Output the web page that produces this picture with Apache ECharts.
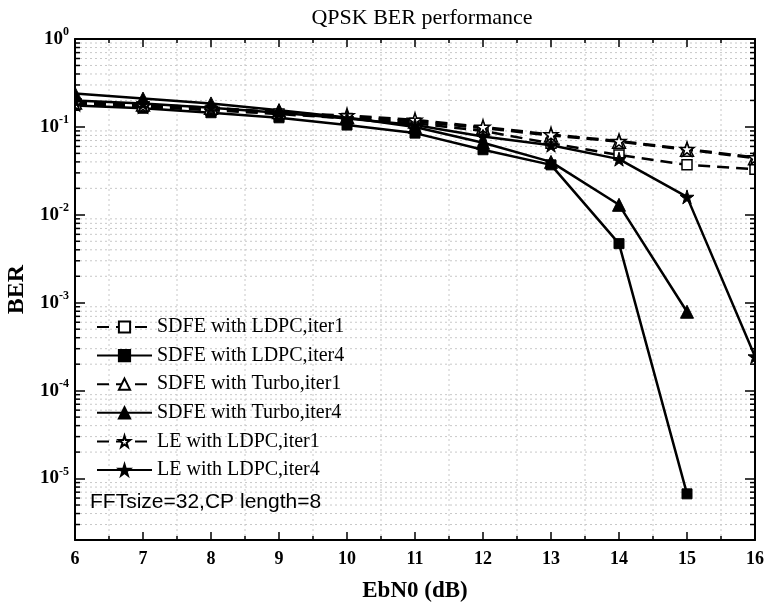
<!DOCTYPE html>
<html>
<head>
<meta charset="UTF-8">
<title>QPSK BER performance</title>
<script src="https://cdn.jsdelivr.net/npm/echarts@6/dist/echarts.min.js"></script>
<style>
  html, body { margin: 0; padding: 0; background: #fff; }
  #main { width: 767px; height: 603px; }
</style>
</head>
<body>
<div id="main"></div>
<script>
// EbN0 points (dB)
var ebn0 = [6, 7, 8, 9, 10, 11, 12, 13, 14, 15, 16];

// BER
var sdfeLdpc1  = [0.180, 0.170, 0.155, 0.140, 0.125, 0.110, 0.090, 0.065, 0.048, 0.037, 0.033];
var sdfeLdpc4  = [0.175, 0.163, 0.145, 0.127, 0.105, 0.085, 0.055, 0.037, 0.0047, 6.7e-6];
var sdfeTurbo1 = [0.190, 0.180, 0.165, 0.148, 0.130, 0.115, 0.097, 0.080, 0.068, 0.055, 0.044];
var sdfeTurbo4 = [0.240, 0.210, 0.185, 0.155, 0.128, 0.100, 0.066, 0.040, 0.013, 7.9e-4];
var leLdpc1    = [0.185, 0.175, 0.160, 0.145, 0.135, 0.120, 0.100, 0.082, 0.069, 0.056, 0.045];
var leLdpc4    = [0.200, 0.185, 0.165, 0.145, 0.125, 0.105, 0.078, 0.062, 0.043, 0.016, 2.45e-4];

var names = ['SDFE with LDPC,iter1', 'SDFE with LDPC,iter4', 'SDFE with Turbo,iter1',
             'SDFE with Turbo,iter4', 'LE with LDPC,iter1', 'LE with LDPC,iter4'];

var xMin = 6, xMax = 16;
var yMin = 2e-6, yMax = 1;

var starPath = 'path://M50,0 L61,35 L98,35 L68,57 L79,91 L50,70 L21,91 L32,57 L2,35 L39,35 Z';

function pairs(vals) {
    return vals.map(function (v, i) { return [ebn0[i], v]; });
}

// log minor grid values 2..9 x 10^k inside the range
var minorVals = [];
for (var k = -6; k < 0; k++) {
    for (var m = 2; m <= 9; m++) {
        var v = m * Math.pow(10, k);
        if (v >= yMin && v < yMax) minorVals.push([xMin, v]);
    }
}
// vertical grid only at the half steps
var halfVals = [];
for (var h = xMin + 0.5; h < xMax; h += 1) halfVals.push([h, yMax]);

function lineSeries(name, vals, symbol, size, hollow, dashed) {
    return {
        name: name,
        type: 'line',
        data: pairs(vals),
        symbol: symbol,
        symbolSize: size,
        showAllSymbol: true,
        z: 5,
        lineStyle: { color: '#000', width: 2.5, type: dashed ? [12, 7] : 'solid' },
        itemStyle: hollow ? { color: '#fff', borderColor: '#000', borderWidth: 1.5 }
                          : { color: '#000', borderColor: '#000', borderWidth: 1 },
        emphasis: { disabled: true }
    };
}

var serif = '"Liberation Serif", "Times New Roman", serif';
var gridGray = '#c8c8c8';

var chart = echarts.init(document.getElementById('main'), null, { renderer: 'canvas' });

var option = {
    backgroundColor: '#fff',
    animation: false,
    title: {
        text: 'QPSK BER performance',
        left: 417,
        top: 2,
        textAlign: 'center',
        textStyle: { fontFamily: serif, fontWeight: 'normal', fontSize: 22, color: '#000' }
    },
    legend: {
        orient: 'vertical',
        left: 91,
        top: 312,
        itemWidth: 55,
        itemHeight: 14,
        itemGap: 8.6,
        selectedMode: false,
        data: names,
        textStyle: { fontFamily: serif, fontSize: 20, color: '#000', lineHeight: 20 }
    },
    grid: { left: 75, right: 12, top: 39, bottom: 63, containLabel: false, outerBoundsMode: 'none' },
    xAxis: [{
        type: 'value',
        z: 10,
        min: xMin, max: xMax, interval: 1,
        name: 'EbN0 (dB)',
        nameLocation: 'middle',
        nameGap: 40,
        nameTextStyle: { fontFamily: serif, fontWeight: 'bold', fontSize: 23, color: '#000' },
        axisLine: { show: true, onZero: false, lineStyle: { color: '#000', width: 2 } },
        axisTick: { show: true, inside: true, length: 8, lineStyle: { color: '#000', width: 1.5 } },
        minorTick: { show: true, splitNumber: 2, length: 4, lineStyle: { color: '#000', width: 1.5 } },
        axisLabel: { margin: 10, fontFamily: serif, fontWeight: 'bold', fontSize: 18, color: '#000' },
        splitLine: { show: false }
    }, {
        type: 'value',
        z: 10,
        position: 'top',
        min: xMin, max: xMax, interval: 1,
        axisLine: { show: true, onZero: false, lineStyle: { color: '#000', width: 2 } },
        axisTick: { show: true, inside: true, length: 8, lineStyle: { color: '#000', width: 1.5 } },
        minorTick: { show: true, splitNumber: 2, length: 4, lineStyle: { color: '#000', width: 1.5 } },
        axisLabel: { show: false },
        splitLine: { show: false }
    }],
    yAxis: [{
        type: 'log',
        z: 10,
        logBase: 10,
        min: yMin, max: yMax,
        splitNumber: 6,
        name: 'BER',
        nameLocation: 'middle',
        nameGap: 40,
        nameTextStyle: { fontFamily: serif, fontWeight: 'bold', fontSize: 24, color: '#000' },
        axisLine: { show: true, onZero: false, lineStyle: { color: '#000', width: 2 } },
        axisTick: { show: true, inside: true, length: 10, lineStyle: { color: '#000', width: 1.5 } },
        axisLabel: {
            margin: 6,
            showMinLabel: true, showMaxLabel: true,
            formatter: function (v) {
                var l = Math.log10(v);
                var e = Math.round(l);
                if (Math.abs(l - e) > 1e-6) return '';
                return '{b|10}{s|' + e + '}';
            },
            rich: {
                b: { fontFamily: serif, fontWeight: 'bold', fontSize: 19, color: '#000', lineHeight: 26 },
                s: { fontFamily: serif, fontWeight: 'bold', fontSize: 12, color: '#000', verticalAlign: 'top', lineHeight: 26 }
            }
        },
        splitLine: { show: false }
    }, {
        type: 'log',
        z: 10,
        logBase: 10,
        position: 'right',
        min: yMin, max: yMax,
        splitNumber: 6,
        axisLine: { show: true, onZero: false, lineStyle: { color: '#000', width: 2 } },
        axisTick: { show: true, inside: true, length: 10, lineStyle: { color: '#000', width: 1.5 } },
        axisLabel: { show: false },
        splitLine: { show: false }
    }],
    graphic: [
        // white masks so markers sitting on the frame look cut off, as in the original
        { type: 'rect', z: 8, silent: true, shape: { x: 0, y: 30, width: 74, height: 518 }, style: { fill: '#fff' } },
        { type: 'rect', z: 8, silent: true, shape: { x: 756, y: 30, width: 11, height: 518 }, style: { fill: '#fff' } },
        {
            type: 'text',
            z: 9,
            left: 90,
            top: 492,
            style: {
                text: 'FFTsize=32,CP length=8',
                font: '21px "Liberation Sans", Arial, sans-serif',
                fill: '#000'
            }
        }
    ],
    series: [
        {
            // log minor grid lines and minor ticks on left/right axes
            type: 'custom',
            silent: true,
            z: 1,
            data: minorVals,
            encode: { x: 0, y: 1 },
            renderItem: function (params, api) {
                var v = api.value(1);
                var p0 = api.coord([xMin, v]);
                var p1 = api.coord([xMax, v]);
                return {
                    type: 'group',
                    children: [{
                        type: 'line',
                        shape: { x1: p0[0], y1: p0[1], x2: p1[0], y2: p1[1] },
                        style: { stroke: gridGray, lineWidth: 1, lineDash: [2, 3] }
                    }, {
                        type: 'line',
                        shape: { x1: p0[0], y1: p0[1], x2: p0[0] + 5, y2: p0[1] },
                        style: { stroke: '#000', lineWidth: 1.5 }
                    }, {
                        type: 'line',
                        shape: { x1: p1[0] - 5, y1: p1[1], x2: p1[0], y2: p1[1] },
                        style: { stroke: '#000', lineWidth: 1.5 }
                    }]
                };
            }
        },
        {
            // vertical dotted grid at x.5
            type: 'custom',
            silent: true,
            z: 1,
            data: halfVals,
            encode: { x: 0, y: 1 },
            renderItem: function (params, api) {
                var x = api.value(0);
                var p0 = api.coord([x, yMax]);
                var p1 = api.coord([x, yMin]);
                return {
                    type: 'line',
                    shape: { x1: p0[0], y1: p0[1], x2: p1[0], y2: p1[1] },
                    style: { stroke: gridGray, lineWidth: 1, lineDash: [2, 3] }
                };
            }
        },
        lineSeries(names[0], sdfeLdpc1, 'rect', 10, true, true),
        lineSeries(names[1], sdfeLdpc4, 'rect', 10, false, false),
        lineSeries(names[2], sdfeTurbo1, 'triangle', 13, true, true),
        lineSeries(names[3], sdfeTurbo4, 'triangle', 13, false, false),
        lineSeries(names[4], leLdpc1, starPath, 14, true, true),
        lineSeries(names[5], leLdpc4, starPath, 14, false, false)
    ]
};

chart.setOption(option);
</script>
</body>
</html>
